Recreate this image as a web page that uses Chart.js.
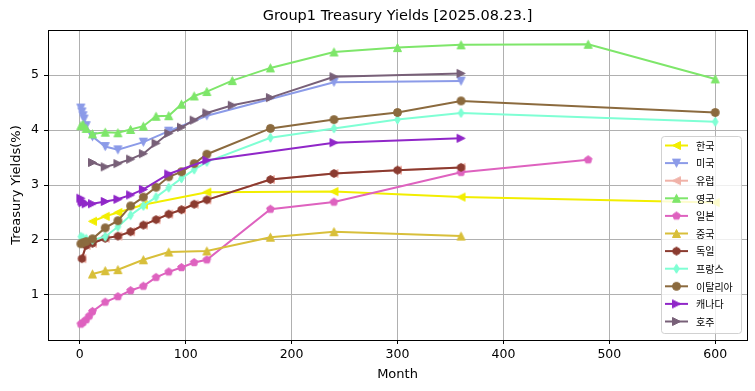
<!DOCTYPE html>
<html>
<head>
<meta charset="utf-8">
<script src="https://cdn.jsdelivr.net/npm/chart.js@4"></script>
<style>
  html, body { margin: 0; padding: 0; background: #fff; }
  #wrap { width: 755px; height: 391px; }
</style>
</head>
<body>
<div id="wrap"><canvas id="chart" width="755" height="391"></canvas></div>
<script>
// months to maturity / yields (%)
const seriesNames = ['한국', '미국', '유럽', '영국', '일본', '중국', '독일', '프랑스', '이탈리아', '캐나다', '호주'];

const krMonths = [12, 24, 36, 60, 120, 240, 360, 600];
const krYields = [2.34, 2.43, 2.50, 2.64, 2.87, 2.88, 2.78, 2.68];

const usMonths = [1, 2, 3, 4, 6, 12, 24, 36, 60, 84, 120, 240, 360];
const usYields = [4.40, 4.33, 4.26, 4.20, 4.08, 3.88, 3.70, 3.64, 3.78, 3.98, 4.26, 4.87, 4.89];

const euMonths = [2, 6, 12, 24, 36, 48, 60, 72, 84, 96, 108, 120, 180, 240, 300, 360];
const euYields = [1.66, 1.90, 1.94, 2.03, 2.07, 2.15, 2.27, 2.37, 2.47, 2.55, 2.65, 2.73, 3.10, 3.21, 3.27, 3.32];

const ukMonths = [1, 3, 6, 12, 24, 36, 48, 60, 72, 84, 96, 108, 120, 144, 180, 240, 300, 360, 480, 600];
const ukYields = [4.08, 4.10, 4.03, 3.93, 3.96, 3.95, 4.01, 4.07, 4.25, 4.26, 4.47, 4.62, 4.70, 4.90, 5.13, 5.42, 5.50, 5.55, 5.56, 4.93];

const jpMonths = [1, 3, 6, 9, 12, 24, 36, 48, 60, 72, 84, 96, 108, 120, 180, 240, 360, 480];
const jpYields = [0.47, 0.50, 0.55, 0.62, 0.70, 0.87, 0.97, 1.08, 1.16, 1.32, 1.42, 1.50, 1.59, 1.64, 2.56, 2.69, 3.23, 3.46];

const cnMonths = [12, 24, 36, 60, 84, 120, 180, 240, 360];
const cnYields = [1.38, 1.44, 1.46, 1.64, 1.78, 1.80, 2.05, 2.15, 2.07];

const deMonths = [2, 6, 12, 24, 36, 48, 60, 72, 84, 96, 108, 120, 180, 240, 300, 360];
const deYields = [1.66, 1.90, 1.94, 2.03, 2.07, 2.15, 2.27, 2.37, 2.47, 2.55, 2.65, 2.73, 3.10, 3.21, 3.27, 3.32];

const frMonths = [1, 3, 6, 12, 24, 36, 48, 60, 72, 84, 96, 108, 120, 180, 240, 300, 360, 600];
const frYields = [2.06, 2.04, 2.02, 2.00, 2.06, 2.24, 2.45, 2.62, 2.78, 2.95, 3.12, 3.28, 3.42, 3.86, 4.03, 4.19, 4.31, 4.15];

const itMonths = [1, 3, 6, 12, 24, 36, 48, 60, 72, 84, 96, 108, 120, 180, 240, 300, 360, 600];
const itYields = [1.93, 1.95, 1.97, 2.02, 2.22, 2.35, 2.62, 2.78, 2.96, 3.15, 3.24, 3.39, 3.56, 4.03, 4.19, 4.32, 4.53, 4.32];

const caMonths = [1, 2, 3, 6, 12, 24, 36, 48, 60, 84, 120, 240, 360];
const caYields = [2.76, 2.71, 2.68, 2.66, 2.66, 2.70, 2.74, 2.82, 2.92, 3.20, 3.45, 3.77, 3.85];

const auMonths = [12, 24, 36, 48, 60, 72, 84, 96, 108, 120, 144, 180, 240, 360];
const auYields = [3.41, 3.33, 3.39, 3.47, 3.57, 3.76, 3.94, 4.05, 4.18, 4.31, 4.45, 4.59, 4.97, 5.03];

const xTicks = [0, 100, 200, 300, 400, 500, 600];
const yTicks = [1, 2, 3, 4, 5];

const seriesMonths = [krMonths, usMonths, euMonths, ukMonths, jpMonths, cnMonths, deMonths, frMonths, itMonths, caMonths, auMonths];
const seriesYields = [krYields, usYields, euYields, ukYields, jpYields, cnYields, deYields, frYields, itYields, caYields, auYields];

const colors = ['#f2ee00', '#8c9be8', '#f0b2a8', '#7ee66a', '#de62bf', '#d8bf3a', '#8b3b30', '#7fffd4', '#8b6a3e', '#9027c8', '#786078'];
const shapes = ['left', 'down', 'left', 'up', 'pentagon', 'up', 'hexagon', 'diamond', 'circle', 'right', 'right'];

// matplotlib-like marker drawn onto a small canvas
function makeMarker(shape, color, size) {
    const c = document.createElement('canvas');
    const dim = Math.ceil(size + 3);
    c.width = dim;
    c.height = dim;
    const g = c.getContext('2d');
    const h = size / 2;
    g.translate(dim / 2, dim / 2);
    g.beginPath();
    let pts = [];
    if (shape === 'up') pts = [[0, -h], [-h, h], [h, h]];
    else if (shape === 'down') pts = [[0, h], [-h, -h], [h, -h]];
    else if (shape === 'left') pts = [[-h, 0], [h, -h], [h, h]];
    else if (shape === 'right') pts = [[h, 0], [-h, -h], [-h, h]];
    else if (shape === 'diamond') pts = [[0, -h * 1.15], [h * 0.7, 0], [0, h * 1.15], [-h * 0.7, 0]];
    else if (shape === 'pentagon' || shape === 'hexagon') {
        const n = shape === 'pentagon' ? 5 : 6;
        for (let k = 0; k < n; k++) {
            const a = -Math.PI / 2 + k * 2 * Math.PI / n;
            pts.push([h * Math.cos(a), h * Math.sin(a)]);
        }
    }
    if (shape === 'circle') {
        g.arc(0, 0, h, 0, Math.PI * 2);
    } else {
        pts.forEach((p, k) => k ? g.lineTo(p[0], p[1]) : g.moveTo(p[0], p[1]));
        g.closePath();
    }
    g.fillStyle = color;
    g.fill();
    g.strokeStyle = color;
    g.lineWidth = 1;
    g.stroke();
    return c;
}

const markers = seriesNames.map((n, i) => makeMarker(shapes[i], colors[i], 8));

const datasets = seriesNames.map((name, i) => ({
    label: name,
    data: seriesMonths[i].map((m, k) => ({ x: m, y: seriesYields[i][k] })),
    borderColor: colors[i],
    backgroundColor: colors[i],
    borderWidth: 2,
    pointStyle: markers[i],
    pointRadius: 5,
    pointHoverRadius: 5,
    tension: 0,
    fill: false,
    order: seriesNames.length - i
}));

// title centred over the plot area, like matplotlib
const titlePlugin = {
    id: 'axTitle',
    afterDraw(chart) {
        const { ctx, chartArea: a } = chart;
        ctx.save();
        ctx.font = '14.5px "DejaVu Sans"';
        ctx.fillStyle = '#000';
        ctx.textAlign = 'center';
        ctx.textBaseline = 'middle';
        ctx.fillText('Group1 Treasury Yields [2025.08.23.]', (a.left + a.right) / 2, 16);
        ctx.restore();
    }
};

// spines on all four sides
const framePlugin = {
    id: 'frame',
    afterDatasetsDraw(chart) {
        const { ctx, chartArea: a } = chart;
        ctx.save();
        ctx.strokeStyle = '#000';
        ctx.lineWidth = 1;
        ctx.strokeRect(Math.round(a.left) + 0.5, Math.round(a.top) + 0.5,
            Math.round(a.right - a.left), Math.round(a.bottom - a.top));
        ctx.restore();
    }
};

// legend box, lower right, line + marker like matplotlib
const legendPlugin = {
    id: 'boxLegend',
    afterDraw(chart) {
        const { ctx, chartArea: a } = chart;
        const w = 80, rowH = 17.6;
        const h = 197;
        const x0 = a.right - 6 - w;
        const y0 = a.bottom - 7 - h;
        ctx.save();
        ctx.beginPath();
        ctx.roundRect(x0 + 0.5, y0 + 0.5, w, h, 3);
        ctx.fillStyle = 'rgba(255,255,255,0.8)';
        ctx.fill();
        ctx.strokeStyle = 'rgba(204,204,204,0.9)';
        ctx.lineWidth = 1;
        ctx.stroke();
        ctx.font = '10px "Noto Sans CJK KR"';
        ctx.textBaseline = 'middle';
        ctx.textAlign = 'left';
        seriesNames.forEach((name, i) => {
            const cy = y0 + 9.5 + i * rowH;
            ctx.strokeStyle = colors[i];
            ctx.lineWidth = 2;
            ctx.beginPath();
            ctx.moveTo(x0 + 4, cy);
            ctx.lineTo(x0 + 27, cy);
            ctx.stroke();
            const m = markers[i];
            ctx.drawImage(m, x0 + 15.5 - m.width / 2, cy - m.height / 2);
            ctx.fillStyle = '#000';
            ctx.fillText(name, x0 + 35, cy + 0.5);
        });
        ctx.restore();
    }
};

Chart.defaults.color = '#000';
Chart.defaults.font.family = '"DejaVu Sans", sans-serif';

new Chart(document.getElementById('chart').getContext('2d'), {
    type: 'line',
    data: { datasets },
    options: {
        responsive: false,
        animation: false,
        layout: { padding: { left: 0, right: 8, top: 30, bottom: 0 } },
        plugins: {
            legend: { display: false },
            tooltip: { enabled: false },
            title: { display: false }
        },
        scales: {
            x: {
                type: 'linear',
                min: -30,
                max: 630,
                afterBuildTicks: (axis) => { axis.ticks = xTicks.map(v => ({ value: v })); },
                afterFit: (axis) => { axis.height = 51; },
                grid: { color: '#b0b0b0', lineWidth: 1, tickColor: '#000', tickLength: 4 },
                border: { display: false },
                ticks: { font: { size: 12.5 }, padding: 3, maxRotation: 0 },
                title: { display: true, text: 'Month', font: { size: 13 }, padding: { top: 0, bottom: 9 } }
            },
            y: {
                type: 'linear',
                min: 0.18,
                max: 5.82,
                afterBuildTicks: (axis) => { axis.ticks = yTicks.map(v => ({ value: v })); },
                afterFit: (axis) => { axis.width = 48; },
                grid: { color: '#b0b0b0', lineWidth: 1, tickColor: '#000', tickLength: 4 },
                border: { display: false },
                ticks: { font: { size: 12.5 }, padding: 5 },
                title: { display: true, text: 'Treasury Yields(%)', font: { size: 13 }, padding: { top: 9, bottom: 0 } }
            }
        }
    },
    plugins: [framePlugin, legendPlugin, titlePlugin]
});
</script>
</body>
</html>
